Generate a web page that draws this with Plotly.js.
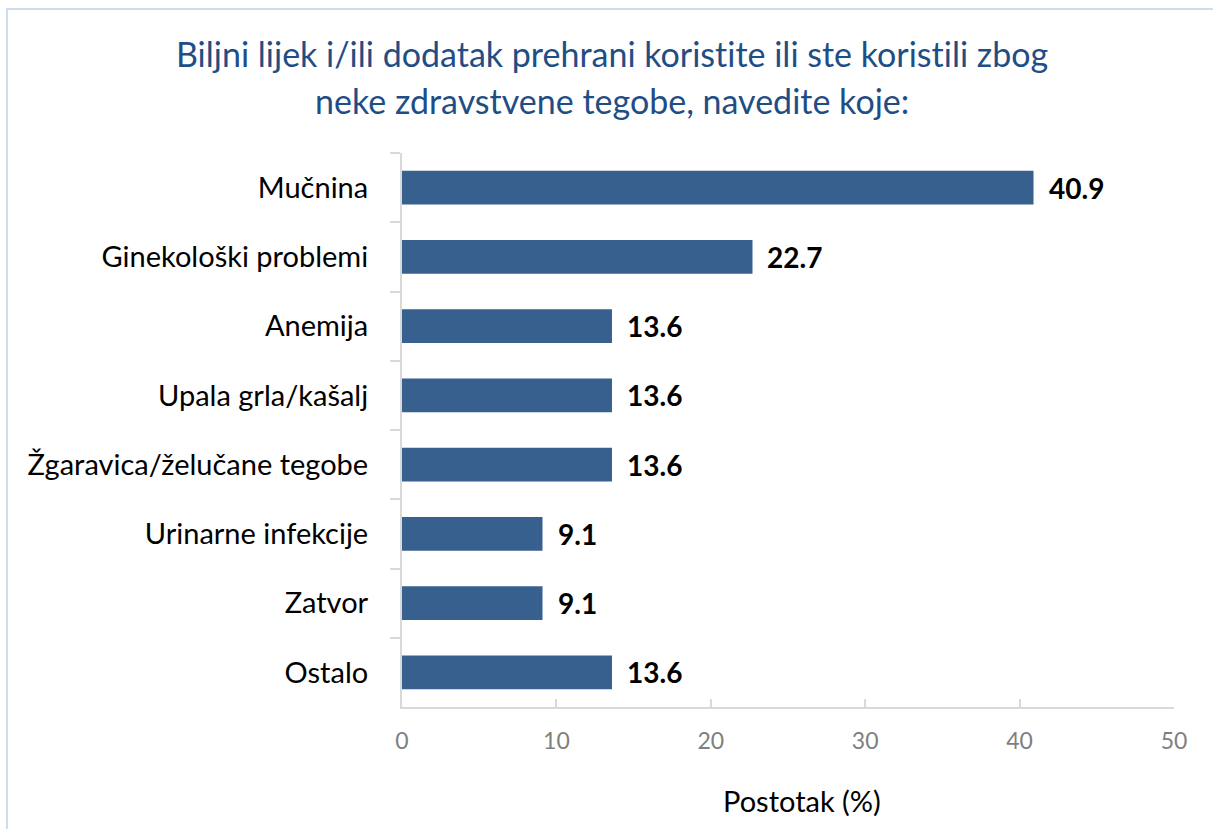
<!DOCTYPE html>
<html>
<head>
<meta charset="utf-8">
<script src="https://cdn.plot.ly/plotly-3.0.1.min.js"></script>
<style>
  html, body { margin: 0; padding: 0; background: #ffffff; overflow: hidden; }
  #frame { position: absolute; left: 6px; top: 8px; width: 1400px; height: 1000px;
           border: 2px solid #cddcef; box-sizing: border-box; }
  #chart { position: absolute; left: 0; top: 0; width: 1213px; height: 829px; }
  text { font-variant-ligatures: none; font-feature-settings: "liga" 0, "clig" 0; }
</style>
</head>
<body>
<div id="frame"></div>
<div id="chart"></div>
<script>
const categories = [
  "Mučnina",
  "Ginekološki problemi",
  "Anemija",
  "Upala grla/kašalj",
  "Žgaravica/želučane tegobe",
  "Urinarne infekcije",
  "Zatvor",
  "Ostalo"
];
const values = [40.9, 22.7, 13.6, 13.6, 13.6, 9.1, 9.1, 13.6];
const xTicks = [0, 10, 20, 30, 40, 50];
const titleLines = [
  "Biljni lijek i/ili dodatak prehrani koristite ili ste koristili zbog",
  "neke zdravstvene tegobe, navedite koje:"
];
const xTitle = "Postotak (%)";

const FONT = "Lato, 'Open Sans', sans-serif";

const trace = {
  type: "bar",
  orientation: "h",
  x: values,
  y: categories,
  marker: { color: "#37608f", line: { width: 0 } },
  hoverinfo: "skip"
};

const annotations = values.map((v, i) => ({
  x: v, y: categories[i], xref: "x", yref: "y",
  text: "<b>" + v.toFixed(1) + "</b>",
  showarrow: false, xanchor: "left", yanchor: "middle", xshift: 13,
  font: { family: FONT, size: 28, color: "#000000" }
}));
annotations.push({
  x: 0.518, y: 0, xref: "paper", yref: "paper", yshift: -93,
  text: xTitle, showarrow: false, xanchor: "center", yanchor: "middle",
  font: { family: FONT, size: 29, color: "#000000" }
});
// title lines, centred on the page (x = 612px -> paper 0.272)
const titleShifts = [100, 53];
titleLines.forEach((t, i) => {
  annotations.push({
    x: 0.272, y: 1, xref: "paper", yref: "paper", yshift: titleShifts[i],
    text: t, showarrow: false, xanchor: "center", yanchor: "middle",
    font: { family: FONT, size: 34, color: "#1f4e86" }
  });
});

const layout = {
  width: 1213, height: 829,
  paper_bgcolor: "rgba(0,0,0,0)",
  plot_bgcolor: "rgba(0,0,0,0)",
  margin: { l: 402, r: 39, t: 153, b: 122 },
  showlegend: false,
  bargap: 0.51,
  xaxis: {
    range: [0, 50],
    tickvals: xTicks,
    ticktext: xTicks.map(String),
    ticks: "inside", ticklen: 8, tickwidth: 2, tickcolor: "#d9d9d9",
    showline: true, linecolor: "#d9d9d9", linewidth: 2,
    showgrid: false, zeroline: false,
    tickfont: { family: FONT, size: 23, color: "#7f7f7f" },
    ticklabelstandoff: 12,
    fixedrange: true
  },
  yaxis: {
    type: "category",
    autorange: "reversed",
    tickson: "boundaries",
    ticks: "outside", ticklen: 10, tickwidth: 2, tickcolor: "#d9d9d9",
    showline: true, linecolor: "#d9d9d9", linewidth: 2,
    showgrid: false, zeroline: false,
    tickfont: { family: FONT, size: 29, color: "#000000" },
    ticklabelstandoff: 26,
    fixedrange: true
  },
  annotations: annotations
};

Plotly.newPlot("chart", [trace], layout, { displayModeBar: false, staticPlot: true });
</script>
</body>
</html>
